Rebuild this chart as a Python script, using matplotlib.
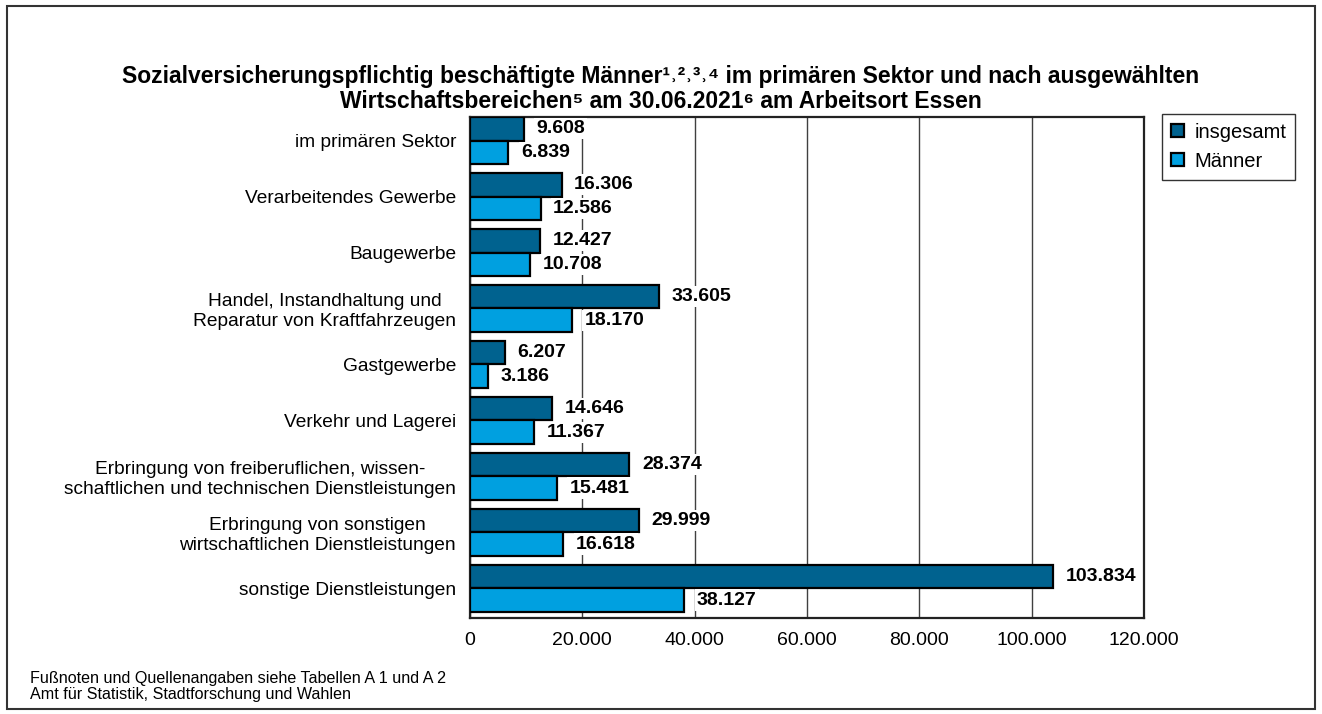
import matplotlib
matplotlib.use("Agg")
import matplotlib.pyplot as plt
from matplotlib.patches import Rectangle

plt.rcParams['font.family'] = ['Liberation Sans', 'DejaVu Sans']

categories = [
    "im primären Sektor",
    "Verarbeitendes Gewerbe",
    "Baugewerbe",
    "Handel, Instandhaltung und\nReparatur von Kraftfahrzeugen",
    "Gastgewerbe",
    "Verkehr und Lagerei",
    "Erbringung von freiberuflichen, wissen-\nschaftlichen und technischen Dienstleistungen",
    "Erbringung von sonstigen\nwirtschaftlichen Dienstleistungen",
    "sonstige Dienstleistungen",
]
insgesamt = [9608, 16306, 12427, 33605, 6207, 14646, 28374, 29999, 103834]
maenner = [6839, 12586, 10708, 18170, 3186, 11367, 15481, 16618, 38127]
xticks = [0, 20000, 40000, 60000, 80000, 100000, 120000]

c_dark = "#00628F"
c_light = "#00A0E0"


def fmt(v):
    return f"{v:,}".replace(",", ".")


fig = plt.figure(figsize=(13.22, 7.14), dpi=100)
ax = fig.add_axes([0.3555, 0.1345, 0.5100, 0.7015])

h = 0.42
ypos = list(range(len(categories)))
ax.barh([y + h / 2 for y in ypos], insgesamt, height=h, color=c_dark,
        edgecolor="black", linewidth=1.6, label="insgesamt", zorder=3)
ax.barh([y + 1.5 * h for y in ypos], maenner, height=h, color=c_light,
        edgecolor="black", linewidth=1.6, label="Männer", zorder=3)

for y, v in zip(ypos, insgesamt):
    ax.annotate(fmt(v), (v, y + h / 2), xytext=(9, 0), textcoords="offset points",
                ha="left", va="center", fontsize=14, fontweight="bold", zorder=4,
                bbox=dict(fc="white", ec="none", pad=1.5))
for y, v in zip(ypos, maenner):
    ax.annotate(fmt(v), (v, y + 1.5 * h), xytext=(9, 0), textcoords="offset points",
                ha="left", va="center", fontsize=14, fontweight="bold", zorder=4,
                bbox=dict(fc="white", ec="none", pad=1.5))

ax.set_xlim(0, 120000)
ax.set_ylim(len(categories) - 0.05, 0)
ax.set_xticks(xticks)
ax.set_xticklabels([fmt(t) for t in xticks], fontsize=14)
ax.set_yticks([y + h for y in ypos])
ax.set_yticklabels(categories, fontsize=13.8, ha="right", multialignment="center")
ax.tick_params(axis="x", length=0, pad=10)
ax.tick_params(axis="y", length=0, pad=10)
ax.xaxis.grid(True, color="#404040", linewidth=1, zorder=0)
for s in ax.spines.values():
    s.set_color("#222222")
    s.set_linewidth(1.6)

fig.text(0.5, 0.875, "Sozialversicherungspflichtig beschäftigte Männer¹˒²˒³˒⁴ im primären Sektor und nach ausgewählten\n"
         "Wirtschaftsbereichen⁵ am 30.06.2021⁶ am Arbeitsort Essen",
         ha="center", va="center", fontsize=16.5, fontweight="bold", linespacing=1.1)

leg = fig.legend(loc="upper left", bbox_to_anchor=(0.879, 0.841), borderaxespad=0,
                 fontsize=14.5, frameon=True, fancybox=False, edgecolor="black",
                 handlelength=0.65, handleheight=0.65, borderpad=0.45, labelspacing=0.5,
                 handletextpad=0.5)
leg.get_frame().set_linewidth(1)

fig.text(0.023, 0.039, "Fußnoten und Quellenangaben siehe Tabellen A 1 und A 2\n"
         "Amt für Statistik, Stadtforschung und Wahlen", ha="left", va="center",
         fontsize=11.6, linespacing=1.1)

fig.patches.append(Rectangle((0.005, 0.007), 0.99, 0.985, transform=fig.transFigure,
                             fill=False, edgecolor="#333333", linewidth=1.5))

fig.savefig("out.png", dpi=100)
